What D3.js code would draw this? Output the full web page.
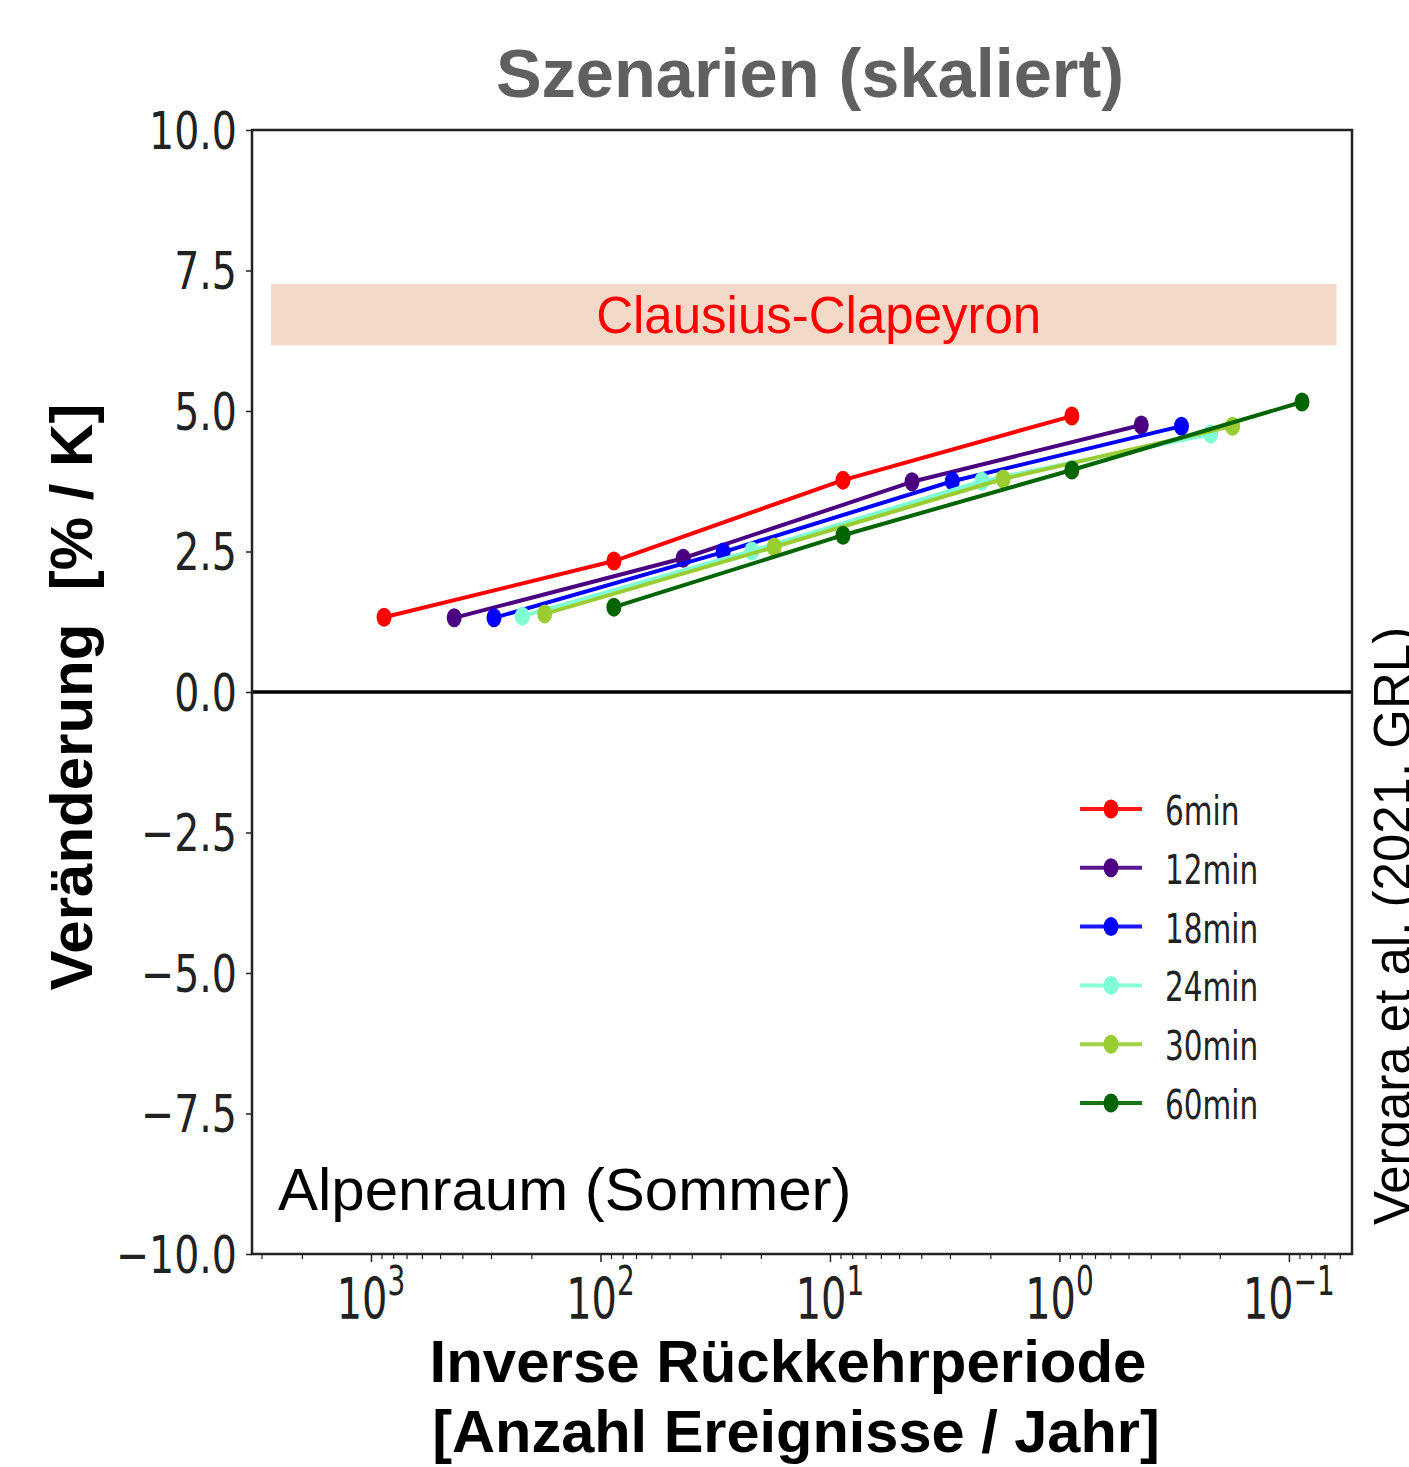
<!DOCTYPE html>
<html><head><meta charset="utf-8">
<script src="https://cdn.jsdelivr.net/npm/d3@7"></script>
<style>
html,body{margin:0;padding:0;background:#fff;}
svg{display:block;}
</style></head>
<body>
<svg id="chart" width="1409" height="1467"></svg>
<script>
// ---- data ----
const durations = ["6min","12min","18min","24min","30min","60min"];
const colors = ["#ff0000","#4b0082","#0000ff","#7fffd4","#9acd32","#006400"];
const x6min  = [877, 87.4, 8.77, 0.883];
const y6min  = [1.33, 2.33, 3.77, 4.91];
const x12min = [434, 43.6, 4.39, 0.44];
const y12min = [1.32, 2.38, 3.74, 4.75];
const x18min = [291, 29.2, 2.93, 0.294];
const y18min = [1.32, 2.49, 3.75, 4.73];
const x24min = [219, 21.9, 2.18, 0.219];
const y24min = [1.35, 2.51, 3.75, 4.59];
const x30min = [175, 17.5, 1.76, 0.176];
const y30min = [1.39, 2.58, 3.79, 4.73];
const x60min = [87.4, 8.77, 0.883, 0.0877];
const y60min = [1.51, 2.79, 3.95, 5.16];
const xSeries = [x6min, x12min, x18min, x24min, x30min, x60min];
const ySeries = [y6min, y12min, y18min, y24min, y30min, y60min];
const yTicks = [-10, -7.5, -5, -2.5, 0, 2.5, 5, 7.5, 10];
const xMajorTicks = [1000, 100, 10, 1, 0.1];
const xTickExp = ["3", "2", "1", "0", "\u22121"];
const ccYRange = [6.17, 7.26];
const ccXRange = [2730, 0.062];

// ---- layout ----
const svg = d3.select("#chart");
const L = 252, R = 1352, T = 130, B = 1254;
const x = d3.scaleLog().domain([3300, 0.0531]).range([L, R]);
const y = d3.scaleLinear().domain([-10, 10]).range([B, T]);
const sans = "'Liberation Sans', Arial, sans-serif";
const dv = "'DejaVu Sans', sans-serif";

// Clausius-Clapeyron band
svg.append("rect")
  .attr("x", x(ccXRange[0])).attr("width", x(ccXRange[1]) - x(ccXRange[0]))
  .attr("y", y(ccYRange[1])).attr("height", y(ccYRange[0]) - y(ccYRange[1]))
  .attr("fill", "#f2d9c8");
svg.append("text")
  .attr("x", (x(ccXRange[0]) + x(ccXRange[1])) / 2 + 15)
  .attr("y", 333)
  .attr("text-anchor", "middle")
  .attr("font-family", sans).attr("font-size", 51)
  .attr("fill", "#ff0000")
  .text("Clausius-Clapeyron");

// zero line
svg.append("line")
  .attr("x1", L).attr("x2", R).attr("y1", y(0)).attr("y2", y(0))
  .attr("stroke", "#000").attr("stroke-width", 3.5);

// frame
svg.append("rect").attr("x", L).attr("y", T).attr("width", R - L).attr("height", B - T)
  .attr("fill", "none").attr("stroke", "#222").attr("stroke-width", 2.5);

// y axis ticks
const yAxis = svg.append("g").attr("transform", `translate(${L},0)`)
  .call(d3.axisLeft(y).tickValues(yTicks).tickSize(6).tickFormat(""));
yAxis.select(".domain").remove();
yAxis.selectAll("line").attr("stroke", "#222").attr("stroke-width", 1.5);
const fmt = d3.format(".1f");
yTicks.forEach(v => {
  svg.append("g").attr("transform", `translate(237,${y(v)}) scale(0.76,1)`)
    .append("text").attr("text-anchor", "end").attr("dy", "0.36em")
    .attr("font-family", dv).attr("font-size", 52).attr("fill", "#222")
    .text(fmt(v));
});

// x axis ticks (major + minor)
const allTicks = x.ticks();
const xAxisMinor = svg.append("g").attr("transform", `translate(0,${B})`)
  .call(d3.axisBottom(x).tickValues(allTicks.filter(t => !xMajorTicks.includes(t))).tickSize(5).tickFormat(""));
xAxisMinor.select(".domain").remove();
xAxisMinor.selectAll("line").attr("stroke", "#222").attr("stroke-width", 1.2);
const xAxisMajor = svg.append("g").attr("transform", `translate(0,${B})`)
  .call(d3.axisBottom(x).tickValues(xMajorTicks).tickSize(8).tickFormat(""));
xAxisMajor.select(".domain").remove();
xAxisMajor.selectAll("line").attr("stroke", "#222").attr("stroke-width", 1.5);
xMajorTicks.forEach((v, i) => {
  const t = svg.append("g").attr("transform", `translate(${x(v)},1319) scale(0.7,1)`)
    .append("text").attr("text-anchor", "middle")
    .attr("font-family", dv).attr("font-size", 57).attr("fill", "#222");
  t.append("tspan").text("10");
  t.append("tspan").attr("font-size", 40).attr("dy", -24).text(xTickExp[i]);
});

// series lines + markers
const line = d3.line().x(d => x(d[0])).y(d => y(d[1]));
durations.forEach((name, i) => {
  const pts = xSeries[i].map((xv, j) => [xv, ySeries[i][j]]);
  const g = svg.append("g");
  g.append("path").attr("d", line(pts)).attr("fill", "none")
    .attr("stroke", colors[i]).attr("stroke-width", 4).attr("stroke-linejoin", "round");
  g.selectAll("ellipse").data(pts).join("ellipse")
    .attr("cx", d => x(d[0])).attr("cy", d => y(d[1]))
    .attr("rx", 7.5).attr("ry", 9.5).attr("fill", colors[i]);
});

// legend
const legY0 = 809, legDy = 58.8;
durations.forEach((name, i) => {
  const yy = legY0 + i * legDy;
  svg.append("line").attr("x1", 1080).attr("x2", 1142).attr("y1", yy).attr("y2", yy)
    .attr("stroke", colors[i]).attr("stroke-width", 4).attr("opacity", 0.9);
  svg.append("ellipse").attr("cx", 1111).attr("cy", yy).attr("rx", 7.5).attr("ry", 9.5)
    .attr("fill", colors[i]);
  svg.append("g").attr("transform", `translate(1165,${yy + 16}) scale(0.72,1)`)
    .append("text").attr("font-family", dv).attr("font-size", 41).attr("fill", "#222")
    .text(name);
});

// region label
svg.append("text").attr("x", 278).attr("y", 1210)
  .attr("font-family", sans).attr("font-size", 60).attr("fill", "#000")
  .text("Alpenraum (Sommer)");

// title
svg.append("text").attr("x", 810).attr("y", 97).attr("text-anchor", "middle")
  .attr("font-family", sans).attr("font-weight", "bold").attr("font-size", 68.5)
  .attr("fill", "#606060").text("Szenarien (skaliert)");

// y title
svg.append("text").attr("transform", "translate(92,697) rotate(-90)")
  .attr("text-anchor", "middle").attr("font-family", sans).attr("font-weight", "bold")
  .attr("font-size", 60).attr("fill", "#000").attr("xml:space", "preserve")
  .text("Veränderung  [% / K]");

// x title
svg.append("text").attr("x", 788).attr("y", 1382).attr("text-anchor", "middle")
  .attr("font-family", sans).attr("font-weight", "bold").attr("font-size", 60)
  .attr("fill", "#000").text("Inverse Rückkehrperiode");
svg.append("text").attr("x", 796).attr("y", 1452).attr("text-anchor", "middle")
  .attr("font-family", sans).attr("font-weight", "bold").attr("font-size", 59.5)
  .attr("fill", "#000").text("[Anzahl Ereignisse / Jahr]");

// citation (clipped at right edge, as in the reference)
svg.append("text").attr("transform", "translate(1410,1225) rotate(-90)")
  .attr("font-family", sans).attr("font-size", 51).attr("fill", "#000")
  .text("Vergara et al. (2021, GRL)");
</script>
</body></html>
